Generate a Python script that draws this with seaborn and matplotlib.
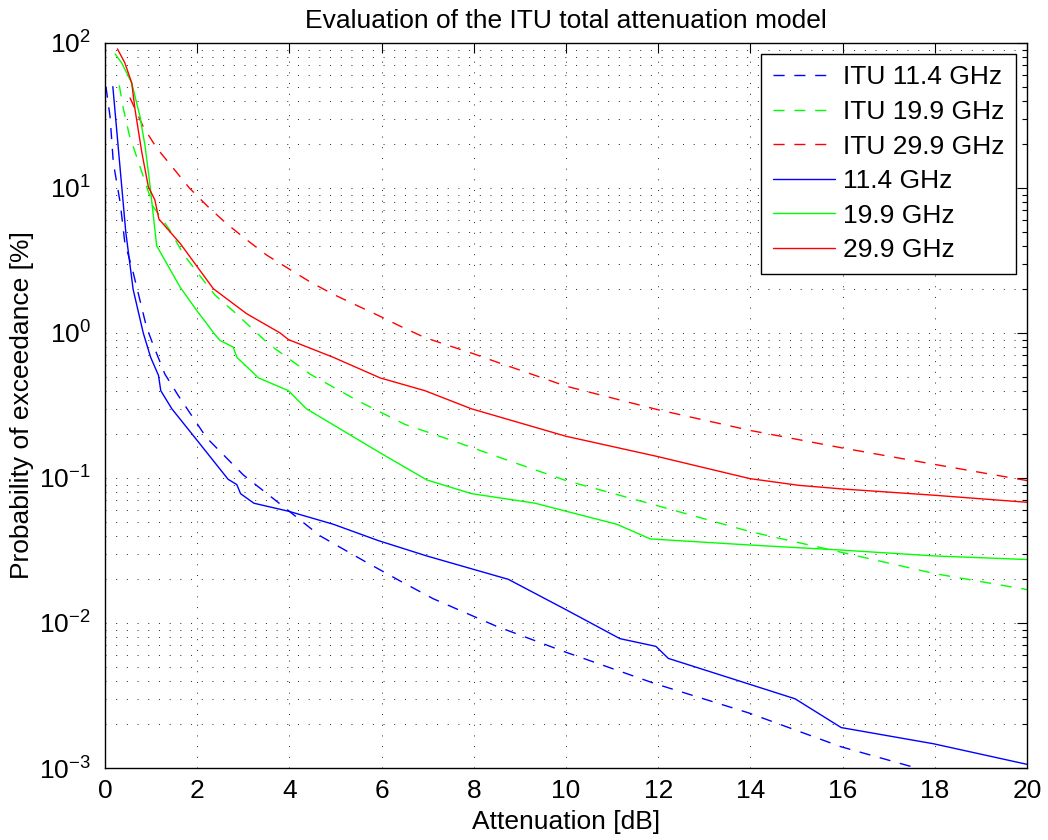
import numpy as np
import matplotlib
matplotlib.use("Agg")
import matplotlib.pyplot as plt
from matplotlib.ticker import LogLocator, LogFormatterMathtext, NullFormatter, MultipleLocator
import seaborn as sns

# ITU-R model predictions: attenuation [dB] vs. probability of exceedance [%]
att_itu_114 = [0.02, 0.11, 0.18, 0.33, 0.43, 0.60, 0.90, 1.05, 1.30, 1.59, 2.20, 3.00,
               3.83, 4.66, 5.60, 6.40, 7.12, 8.49, 9.99, 11.95, 13.96, 15.97, 17.6]
p_itu_114 = [50, 31, 15, 7.9, 4.2, 2.7, 1.1, 0.82, 0.52, 0.37, 0.19, 0.105,
             0.065, 0.040, 0.027, 0.0195, 0.0147, 0.0095, 0.0063, 0.0038, 0.0024, 0.0014, 0.001]

att_itu_199 = [0.31, 0.40, 0.53, 0.72, 1.05, 1.41, 1.70, 2.02, 2.39, 2.80, 3.55, 4.45,
               5.49, 6.51, 7.56, 8.69, 10.0, 11.97, 13.99, 16.0, 18.0, 20.0]
p_itu_199 = [51, 35, 23, 15.3, 7.4, 5.1, 3.5, 2.57, 1.82, 1.40, 0.84, 0.52,
             0.34, 0.234, 0.18, 0.134, 0.096, 0.0646, 0.0427, 0.0306, 0.0219, 0.017]

att_itu_299 = [0.54, 0.83, 1.12, 1.48, 1.83, 2.22, 2.63, 3.07, 3.51, 3.98, 4.45, 4.95,
               5.46, 5.93, 6.44, 6.94, 7.45, 7.99, 8.5, 10.0, 11.97, 13.99, 16.0, 18.0, 20.0]
p_itu_299 = [42, 26.4, 18.9, 13.7, 10.0, 7.5, 5.7, 4.4, 3.44, 2.78, 2.25, 1.85,
             1.55, 1.32, 1.10, 0.93, 0.82, 0.72, 0.63, 0.43, 0.297, 0.213, 0.161, 0.124, 0.096]

# Measured exceedance statistics
att_meas_114 = [0.17, 0.45, 0.61, 0.83, 0.99, 1.16, 1.21, 1.45, 1.95, 2.67, 2.86, 2.94, 3.23,
                3.98, 4.95, 5.93, 6.98, 8.75, 9.99, 11.17, 11.95, 12.22, 13.96, 14.97, 15.97,
                17.97, 20.0]
p_meas_114 = [50, 5.0, 2.0, 1.0, 0.68, 0.51, 0.40, 0.30, 0.19, 0.098, 0.090, 0.078, 0.067,
              0.059, 0.048, 0.037, 0.029, 0.020, 0.0124, 0.0078, 0.0069, 0.0057, 0.0038, 0.0030,
              0.0019, 0.00147, 0.00106]

att_meas_199 = [0.22, 0.36, 0.58, 0.76, 0.87, 0.98, 1.12, 1.63, 1.99, 2.37, 2.49, 2.78, 2.86,
                3.33, 3.98, 4.37, 5.97, 6.98, 7.95, 9.33, 10.0, 11.1, 11.83, 13.99, 16.0, 18.0, 20.0]
p_meas_199 = [84, 73, 53, 31, 19.4, 10.2, 4.0, 2.07, 1.43, 0.99, 0.89, 0.80, 0.68,
              0.49, 0.40, 0.30, 0.149, 0.097, 0.078, 0.067, 0.059, 0.048, 0.038, 0.0345,
              0.0318, 0.029, 0.0274]

att_meas_299 = [0.27, 0.43, 0.58, 0.65, 0.80, 0.94, 1.08, 1.17, 1.63, 2.35, 3.07, 3.80, 3.98,
                4.95, 5.97, 6.94, 7.95, 10.0, 11.97, 13.99, 15.05, 16.0, 18.0, 20.0]
p_meas_299 = [91, 73, 53, 35, 17.5, 10.2, 8.3, 6.1, 4.15, 2.02, 1.36, 1.0, 0.90,
              0.68, 0.49, 0.40, 0.30, 0.194, 0.141, 0.099, 0.089, 0.084, 0.076, 0.068]

labels = ["ITU 11.4 GHz", "ITU 19.9 GHz", "ITU 29.9 GHz", "11.4 GHz", "19.9 GHz", "29.9 GHz"]

sns.set_theme(style="white")
plt.rcParams["font.family"] = ["Liberation Sans", "DejaVu Sans"]
plt.rcParams["mathtext.fontset"] = "custom"
plt.rcParams["mathtext.rm"] = "Liberation Sans"
plt.rcParams["mathtext.it"] = "Liberation Sans"
plt.rcParams["mathtext.default"] = "regular"
for key in ("text.color", "axes.labelcolor", "xtick.color", "ytick.color"):
    plt.rcParams[key] = "black"
FS = 19

fig = plt.figure(figsize=(10.48, 8.4), dpi=100)
ax = fig.add_axes([105 / 1048, 1 - 768 / 840, 922 / 1048, 725 / 840])

blue, green, red = (0, 0, 1), (0, 1, 0), (1, 0, 0)
dash = (0, (8, 7))
series = [
    (att_itu_114, p_itu_114, blue, dash),
    (att_itu_199, p_itu_199, green, dash),
    (att_itu_299, p_itu_299, red, dash),
    (att_meas_114, p_meas_114, blue, "-"),
    (att_meas_199, p_meas_199, green, "-"),
    (att_meas_299, p_meas_299, red, "-"),
]
for (x, y, c, ls), lab in zip(series, labels):
    sns.lineplot(x=x, y=y, ax=ax, color=c, linestyle=ls, linewidth=1.0,
                 sort=False, estimator=None, label=lab)

ax.set_yscale("log")
ax.set_xlim(0, 20)
ax.set_ylim(1e-3, 1e2)
ax.xaxis.set_major_locator(MultipleLocator(2))
ax.yaxis.set_major_locator(LogLocator(base=10, numticks=20))
ax.yaxis.set_major_formatter(LogFormatterMathtext())
ax.yaxis.set_minor_locator(LogLocator(base=10, subs=np.arange(2, 10), numticks=100))
ax.yaxis.set_minor_formatter(NullFormatter())

grid_kw = dict(color="#222222", linewidth=0.7, linestyle=(0, (1, 10)))
ax.grid(True, which="major", axis="both", **grid_kw)
ax.grid(True, which="minor", axis="y", **grid_kw)

for s in ax.spines.values():
    s.set_color("black")
    s.set_linewidth(1.0)
ax.tick_params(which="both", direction="in", top=True, right=True, colors="black",
               labelsize=FS, width=0.8)
ax.tick_params(which="major", length=7)
ax.tick_params(which="minor", length=3.5)
ax.tick_params(axis="x", pad=8)
ax.tick_params(axis="y", pad=10)

ax.set_title("Evaluation of the ITU total attenuation model", fontsize=FS, pad=11)
ax.set_xlabel("Attenuation [dB]", fontsize=FS, labelpad=5)
ax.set_ylabel("Probability of exceedance [%]", fontsize=FS, labelpad=4)

leg = ax.legend(loc="upper right", fontsize=FS, frameon=True, fancybox=False,
                framealpha=1, edgecolor="black", handlelength=2.35, handletextpad=0.3,
                labelspacing=0.4, borderpad=0.45, borderaxespad=0.4)
leg.get_frame().set_linewidth(1.0)

fig.savefig("out.png", dpi=100, facecolor="white")
